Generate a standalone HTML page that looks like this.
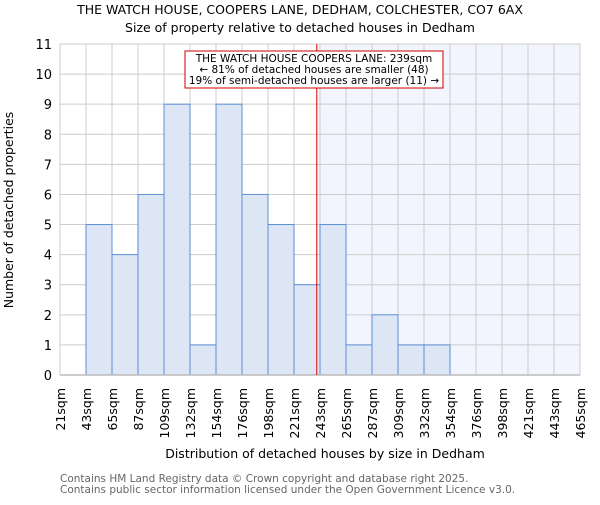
<!DOCTYPE html>
<html><head><meta charset="utf-8"><style>
body{margin:0;background:#fff}
svg text{font-family:"DejaVu Sans","Liberation Sans",sans-serif}
</style></head><body>
<svg id="chart" width="600" height="500" xmlns="http://www.w3.org/2000/svg">
<text x="300" y="14" text-anchor="middle" font-size="12.5">THE WATCH HOUSE, COOPERS LANE, DEDHAM, COLCHESTER, CO7 6AX</text>
<text x="300" y="32" text-anchor="middle" font-size="12.5">Size of property relative to detached houses in Dedham</text>
<g id="plot"></g>
<text x="325" y="458" text-anchor="middle" font-size="12.5">Distribution of detached houses by size in Dedham</text>
<text transform="translate(13,210) rotate(-90)" text-anchor="middle" font-size="12.5">Number of detached properties</text>
<text x="60" y="482" font-size="10.5" fill="#666">Contains HM Land Registry data © Crown copyright and database right 2025.</text>
<text x="60" y="493" font-size="10.5" fill="#666">Contains public sector information licensed under the Open Government Licence v3.0.</text>
</svg>
<script>
const binLabels=["21sqm","43sqm","65sqm","87sqm","109sqm","132sqm","154sqm","176sqm","198sqm","221sqm","243sqm","265sqm","287sqm","309sqm","332sqm","354sqm","376sqm","398sqm","421sqm","443sqm","465sqm"];
const counts=[0,5,4,6,9,1,9,6,5,3,5,1,2,1,1,0,0,0,0,0];
const yTicks=[0,1,2,3,4,5,6,7,8,9,10,11];
const propertySize=239;
const binEdges=[21,43,65,87,109,132,154,176,198,221,243,265,287,309,332,354,376,398,421,443,465];
const L=60,R=580,T=44,B=375,yMax=11;
const ns="http://www.w3.org/2000/svg";
const g=document.getElementById('plot');
const xs=i=>L+(R-L)*i/(binLabels.length-1);
const ys=v=>B-(B-T)*v/yMax;
function xVal(v){for(let i=0;i<binEdges.length-1;i++){if(v<=binEdges[i+1])return xs(i)+(xs(i+1)-xs(i))*(v-binEdges[i])/(binEdges[i+1]-binEdges[i]);}return R;}
function mk(t,a,p){const e=document.createElementNS(ns,t);for(const k in a)e.setAttribute(k,a[k]);(p||g).appendChild(e);return e;}
const px=xVal(propertySize)+1.5;
const sh=mk('rect',{x:px,y:T,width:R-px,height:B-T,fill:'#f2f5fd'});


yTicks.forEach(v=>{const l=mk('line',{x1:L,x2:R,y1:ys(v),y2:ys(v),stroke:'#ccc'});


const t=mk('text',{x:L-8,y:ys(v)+5,'text-anchor':'end','font-size':'13'});t.textContent=v;

});
binLabels.forEach((s,i)=>{const l=mk('line',{x1:xs(i),x2:xs(i),y1:T,y2:B,stroke:'#ccc'});


const t=mk('text',{transform:`translate(${xs(i)+5},${B+13}) rotate(-90)`,'text-anchor':'end','font-size':'12.5'});t.textContent=s;

});
counts.forEach((c,i)=>{if(!c)return;const r=mk('rect',{x:xs(i),y:ys(c),width:xs(i+1)-xs(i),height:B-ys(c),fill:'#dde6f4',stroke:'#5b8fd6','stroke-width':1});

});
const ax=mk('line',{x1:L,x2:R,y1:B,y2:B,stroke:'#bbb','stroke-width':1.5});


const rl=mk('line',{x1:px,x2:px,y1:T,y2:B,stroke:'#dd0000','stroke-width':1});


const bx=mk('rect',{x:185,y:51,width:258,height:37,fill:'#fff',stroke:'#cc0000','stroke-width':1});


["THE WATCH HOUSE COOPERS LANE: 239sqm","← 81% of detached houses are smaller (48)","19% of semi-detached houses are larger (11) →"].forEach((s,i)=>{const t=mk('text',{x:314,y:62+i*11,'text-anchor':'middle','font-size':'10.5'});t.textContent=s;

});
</script>
</body></html>
